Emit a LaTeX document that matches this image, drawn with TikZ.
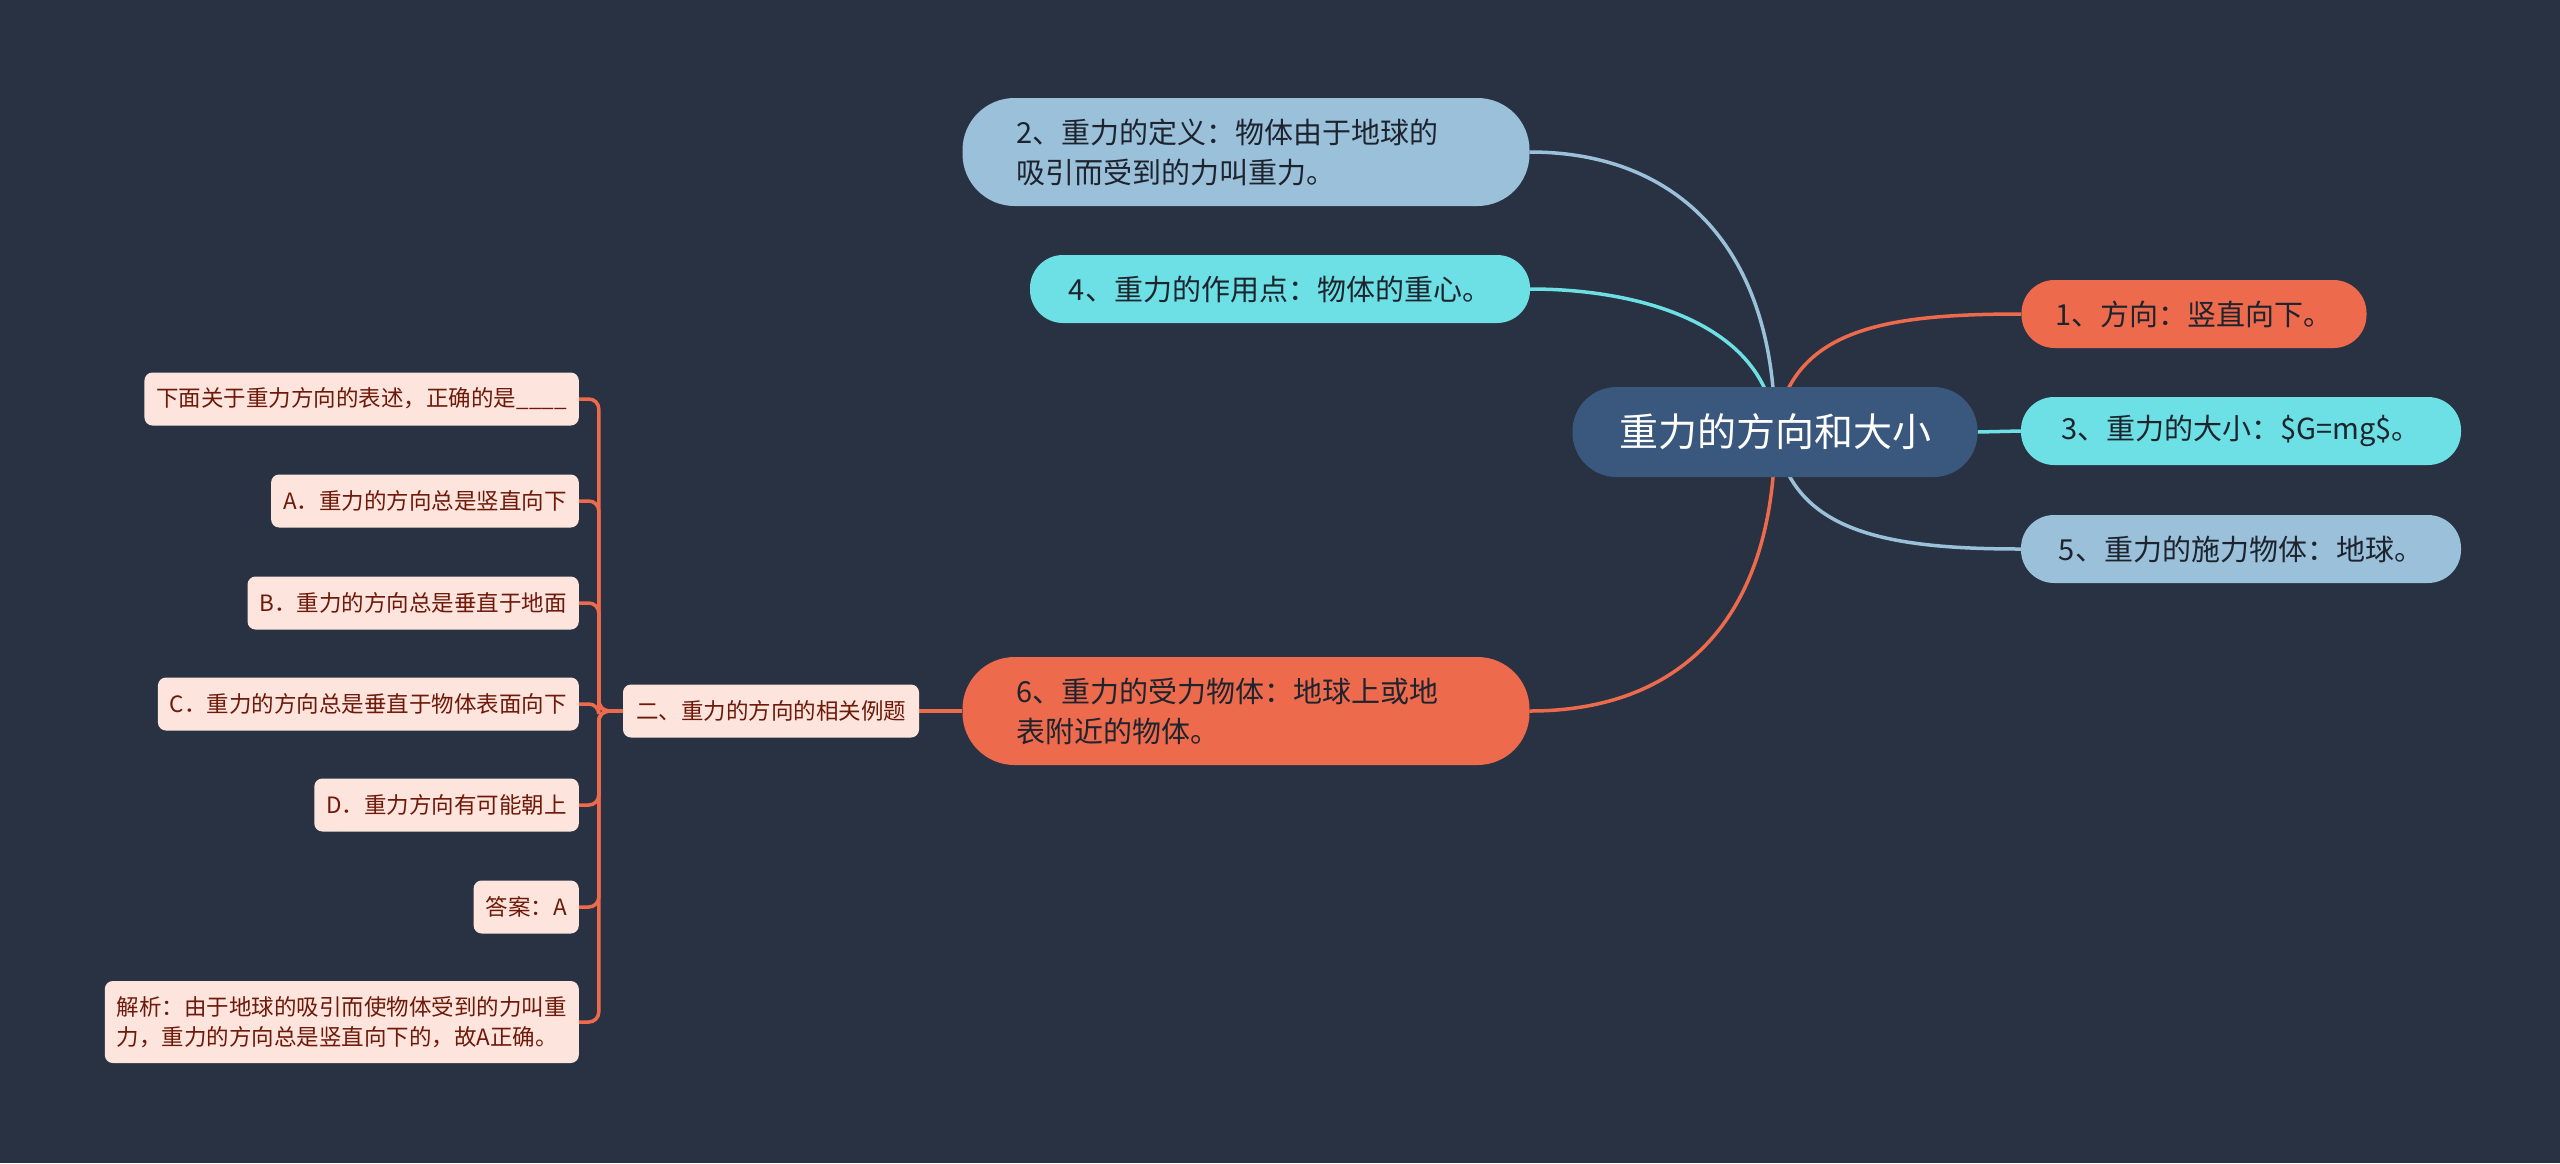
\documentclass[tikz,border=0pt]{standalone}
\usepackage{fontspec}
\setmainfont{Noto Sans CJK SC}
\usetikzlibrary{backgrounds}
\definecolor{bgc}{RGB}{41,50,66}
\definecolor{rootc}{RGB}{58,87,125}
\definecolor{lblue}{RGB}{154,192,218}
\definecolor{cyanc}{RGB}{108,224,228}
\definecolor{orangec}{RGB}{238,106,77}
\definecolor{leaffill}{RGB}{253,229,221}
\definecolor{leaftext}{RGB}{110,25,10}
\definecolor{tdark}{RGB}{30,36,46}
\begin{document}
\begin{tikzpicture}[x=1pt,y=-1pt,
  root/.style={fill=rootc, text=white, rounded corners=44pt, minimum width=405pt, minimum height=90pt, inner sep=0pt, font=\fontsize{39}{46}\selectfont},
  topic/.style={rounded corners=33pt, minimum height=68pt, inner sep=0pt, text=tdark, font=\fontsize{29}{40}\selectfont},
  topictwo/.style={rounded corners=52pt, minimum height=108pt, inner ysep=0pt, inner xsep=54pt, text width=459pt, align=left, text=tdark, font=\fontsize{29}{40}\selectfont},
  leaf/.style={fill=leaffill, text=leaftext, rounded corners=8pt, minimum height=53pt, inner ysep=0pt, inner xsep=12pt, font=\fontsize{22.5}{30}\selectfont},
  conn/.style={line width=3.5pt},
  bracket/.style={line width=3.5pt, orangec, rounded corners=10pt}]
\useasboundingbox (0,0) rectangle (2560,1163);
% nodes
\node[root] (c) at (1775,432) {重力的方向和大小};
\node[topic, fill=orangec, minimum width=345pt] (n1) at (2194,314) {1、方向：竖直向下。};
\node[topic, fill=cyanc, minimum width=440pt] (n3) at (2241,431) {3、重力的大小：\$G=mg\$。};
\node[topic, fill=lblue, minimum width=440pt] (n5) at (2241,549) {5、重力的施力物体：地球。};
\node[topictwo, fill=lblue] (n2) at (1246,152) {2、重力的定义：物体由于地球的\\吸引而受到的力叫重力。};
\node[topic, fill=cyanc, minimum width=500pt] (n4) at (1280,289) {4、重力的作用点：物体的重心。};
\node[topictwo, fill=orangec] (n6) at (1246,711) {6、重力的受力物体：地球上或地\\表附近的物体。};
\node[leaf, minimum width=296pt] (p) at (771,711) {二、重力的方向的相关例题};
\node[leaf, anchor=east] (l1) at (579,399) {下面关于重力方向的表述，正确的是\_\_\_\_};
\node[leaf, anchor=east] (l2) at (579,501) {A．重力的方向总是竖直向下};
\node[leaf, anchor=east] (l3) at (579,603) {B．重力的方向总是垂直于地面};
\node[leaf, anchor=east] (l4) at (579,704) {C．重力的方向总是垂直于物体表面向下};
\node[leaf, anchor=east] (l5) at (579,805) {D．重力方向有可能朝上};
\node[leaf, anchor=east] (l6) at (579,907) {答案：A};
\node[leaf, anchor=east, minimum height=82pt, align=left] (l7) at (579,1022) {解析：由于地球的吸引而使物体受到的力叫重\\力，重力的方向总是竖直向下的，故A正确。};
% connectors
\begin{pgfonlayer}{background}
\fill[bgc] (0,0) rectangle (2560,1163);
\draw[conn, lblue] (c.center) .. controls +(0,-182) and +(150,0) .. (n2.east);
\draw[conn, cyanc] (c.center) .. controls +(-5,-102) and +(120,0) .. (n4.east);
\draw[conn, orangec] (c.center) .. controls +(15,-102) and +(-141,0) .. (n1.west);
\draw[conn, cyanc] (c.east) -- (n3.west);
\draw[conn, lblue] (c.center) .. controls +(15,98) and +(-141,0) .. (n5.west);
\draw[conn, orangec] (c.center) .. controls +(0,188) and +(150,0) .. (n6.east);
\draw[conn, orangec] (n6.west) -- (p.east);
\foreach \l in {l1,l2,l3,l4,l5,l6,l7}{
  \draw[bracket] (p.west) -- ++(-24,0) |- (\l.east);
}
\end{pgfonlayer}
\end{tikzpicture}
\end{document}
